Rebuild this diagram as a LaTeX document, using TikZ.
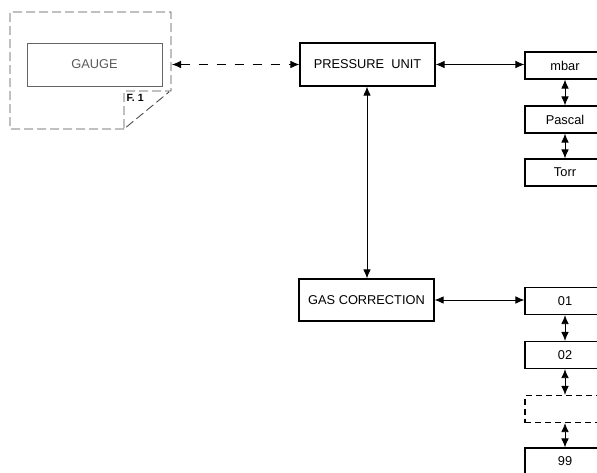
\documentclass[tikz,border=0pt]{standalone}
\usepackage{fontspec}
\setmainfont{Liberation Sans}
\usetikzlibrary{positioning,arrows.meta}

\begin{document}
\begin{tikzpicture}[x=1pt, y=-1pt, >={Latex[length=9pt,width=7.5pt]},
  every node/.style={font=\fontsize{12.8}{14}\selectfont},
  unitbox/.style={draw, line width=1.2pt, minimum width=135pt, minimum height=43pt, inner sep=0pt},
  smallbox/.style={draw, line width=1.1pt, minimum width=80pt, minimum height=27pt, inner sep=0pt},
  link/.style={<->, line width=0.8pt}]
  \clip (0,0) rectangle (597,472);
  % folded sheet round the gauge
  \draw[dashed, dash pattern=on 9pt off 4pt, black!70, line width=0.9pt]
    (124,129) -- (10,129) -- (10,12) -- (171,12) -- (171,91) -- (124,91) -- (124,129) -- (169,92);
  \coordinate (sheet) at (172,64.5);
  \node[unitbox, draw=black!60, text=black!65, line width=1pt] (gauge) at (94.5,64.5) {GAUGE};
  \node[anchor=north west, inner sep=0pt, font=\bfseries\fontsize{10.5}{11}\selectfont] (fig) at (126.5,94.5) {F. 1};
  % main units
  \node[unitbox] (pressure) at (367.5,64.5) {PRESSURE\ \ UNIT};
  \node[unitbox, minimum height=42pt] (gascorr) at (366.5,300) {GAS CORRECTION};
  % pressure units
  \node[smallbox] (mbar) at (565,65.5) {mbar};
  \node[smallbox] (pascal) at (565,119.5) {Pascal};
  \node[smallbox] (torr) at (565,172.5) {Torr};
  % gas numbers
  \node[smallbox] (g01) at (565,301) {01};
  \node[smallbox] (g02) at (565,355) {02};
  \node[smallbox, dashed, dash pattern=on 6pt off 4pt] (gdots) at (565,409) {};
  \node[smallbox] (g99) at (565,461.5) {99};
  % connectors
  \draw[link, dashed, dash pattern=on 9pt off 9pt] (sheet) -- (pressure.west);
  \draw[link] (pressure.east) -- (pressure.east -| mbar.west);
  \draw[link] (pressure.south -| 367,0) -- (gascorr.north -| 367,0);
  \draw[link] (gascorr.east) -- (gascorr.east -| g01.west);
  \draw[link] (mbar) -- (pascal);
  \draw[link] (pascal) -- (torr);
  \draw[link] (g01) -- (g02);
  \draw[link] (g02) -- (gdots);
  \draw[link] (gdots) -- (g99);
\end{tikzpicture}
\end{document}
